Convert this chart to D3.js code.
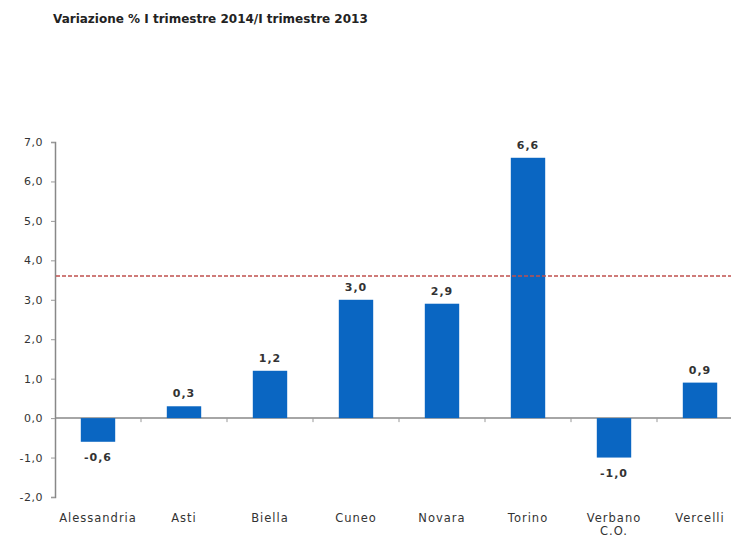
<!DOCTYPE html>
<html>
<head>
<meta charset="utf-8">
<script src="https://cdn.jsdelivr.net/npm/d3@7"></script>
<style>
  body { margin: 0; background: #fff; }
  svg { display: block; }
</style>
</head>
<body>
<div id="chart"></div>
<script>
// data
const categories = ["Alessandria", "Asti", "Biella", "Cuneo", "Novara", "Torino", "Verbano C.O.", "Vercelli"];
const values = [-0.6, 0.3, 1.2, 3.0, 2.9, 6.6, -1.0, 0.9];
const refValue = 3.6;   // media regionale (linea tratteggiata)
const yTicks = [-2, -1, 0, 1, 2, 3, 4, 5, 6, 7];
const title = "Variazione % I trimestre 2014/I trimestre 2013";

const W = 731, H = 538;
const fmt = v => d3.format(".1f")(v).replace(".", ",").replace("−", "-");

let svg = d3.select("#chart").append("svg")
    .attr("width", W)
    .attr("height", H)
    .style("font-family", "'DejaVu Sans', Verdana, sans-serif");

svg.append("text")
    .attr("x", 53)
    .attr("y", 23)
    .attr("font-size", 12)
    .attr("font-weight", "bold")
    .attr("fill", "#222")
    .text(title);

// scales
let x = d3.scaleBand()
    .domain(categories)
    .range([55, 55 + 86 * categories.length])
    .paddingInner(0.6)
    .paddingOuter(0.3);

let y = d3.scaleLinear()
    .domain([-2, 7])
    .range([497, 142]);

// y axis
let yAxis = svg.append("g")
    .attr("transform", "translate(55,0)")
    .call(d3.axisLeft(y).tickValues(yTicks).tickSize(4).tickPadding(8).tickFormat(fmt));
yAxis.select(".domain").attr("stroke", "#888").attr("stroke-width", 1.5);
yAxis.selectAll(".tick line").attr("stroke", "#999");
yAxis.selectAll(".tick text")
    .attr("font-size", 11)
    .attr("letter-spacing", 0.5)
    .attr("fill", "#333")
    .attr("font-family", "'DejaVu Sans', Verdana, sans-serif");

// zero line with category separators
let step = x.step();
let bounds = d3.range(1, categories.length).map(i => x.range()[0] + i * step);
svg.append("line")
    .attr("x1", 55).attr("x2", W)
    .attr("y1", y(0)).attr("y2", y(0))
    .attr("stroke", "#888").attr("stroke-width", 1.5);
svg.append("g").selectAll("line")
    .data(bounds)
    .join("line")
    .attr("x1", d => d).attr("x2", d => d)
    .attr("y1", y(0)).attr("y2", y(0) + 4)
    .attr("stroke", "#999");

// bars
svg.append("g").selectAll("rect")
    .data(values)
    .join("rect")
    .attr("x", (d, i) => x(categories[i]))
    .attr("y", d => y(Math.max(0, d)))
    .attr("width", x.bandwidth())
    .attr("height", d => Math.abs(y(d) - y(0)))
    .attr("fill", "#0a66c2");

// value labels
svg.append("g").selectAll("text")
    .data(values)
    .join("text")
    .attr("x", (d, i) => x(categories[i]) + x.bandwidth() / 2)
    .attr("y", d => d >= 0 ? y(d) - 9 : y(d) + 19)
    .attr("text-anchor", "middle")
    .attr("font-size", 11)
    .attr("letter-spacing", 1)
    .attr("font-weight", "bold")
    .attr("fill", "#333")
    .text(fmt);

// reference dashed line
svg.append("line")
    .attr("x1", 56).attr("x2", W)
    .attr("y1", y(refValue)).attr("y2", y(refValue))
    .attr("stroke", "#c0504d")
    .attr("stroke-width", 1.5)
    .attr("stroke-dasharray", "4,2");

// category labels
svg.append("g").selectAll("text")
    .data(categories)
    .join("text")
    .attr("x", d => x(d) + x.bandwidth() / 2)
    .attr("y", 522)
    .attr("text-anchor", "middle")
    .attr("font-size", 11.5)
    .attr("letter-spacing", 1)
    .attr("fill", "#333")
    .each(function(d) {
        let parts = d.startsWith("Verbano") ? d.split(" ") : [d];
        d3.select(this).selectAll("tspan")
            .data(parts)
            .join("tspan")
            .attr("x", x(d) + x.bandwidth() / 2)
            .attr("dy", (p, i) => i === 0 ? 0 : 13)
            .text(p => p);
    });
</script>
</body>
</html>
